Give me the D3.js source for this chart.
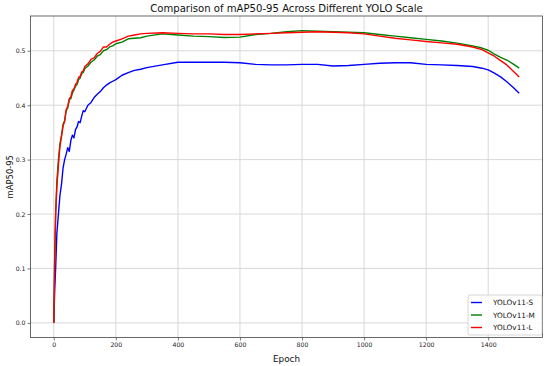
<!DOCTYPE html>
<html>
<head>
<meta charset="utf-8">
<script src="https://cdn.jsdelivr.net/npm/d3@7"></script>
<style>
  body { margin: 0; background: #fff; }
  svg { font-family: "DejaVu Sans", sans-serif; }
</style>
</head>
<body>
<svg width="550" height="366"></svg>
<script>
// epochs
var epochs = [0, 3, 6, 10, 15, 20, 25, 30, 35, 40, 45, 50, 55, 60, 65, 70, 75, 80, 85, 90, 95,
  100, 110, 120, 130, 140, 150, 160, 170, 180, 190, 200, 220, 240, 260, 280, 300, 350,
  400, 450, 500, 550, 600, 650, 700, 750, 800, 850, 900, 950, 1000, 1050, 1100, 1150,
  1200, 1250, 1300, 1350, 1380, 1400, 1420, 1440, 1460, 1480, 1500];

var yoloS = [0, 0.06, 0.10, 0.165, 0.20, 0.235, 0.255, 0.285, 0.30, 0.31, 0.322, 0.315, 0.335, 0.345, 0.34, 0.355, 0.36, 0.37, 0.368, 0.38, 0.39,
  0.388, 0.40, 0.405, 0.414, 0.42, 0.425, 0.432, 0.437, 0.441, 0.444, 0.447, 0.455, 0.46, 0.464, 0.466, 0.469, 0.474,
  0.479, 0.479, 0.479, 0.479, 0.478, 0.475, 0.474, 0.474, 0.475, 0.475, 0.472, 0.473, 0.475, 0.477, 0.478, 0.478,
  0.475, 0.474, 0.473, 0.471, 0.468, 0.465, 0.459, 0.452, 0.443, 0.433, 0.422];

var yoloM = [0, 0.12, 0.20, 0.26, 0.30, 0.33, 0.345, 0.365, 0.372, 0.39, 0.395, 0.41, 0.412, 0.422, 0.428, 0.435, 0.438, 0.447, 0.45, 0.458, 0.46,
  0.467, 0.472, 0.479, 0.483, 0.49, 0.493, 0.50, 0.502, 0.507, 0.509, 0.513, 0.516, 0.522, 0.523, 0.524, 0.527, 0.531,
  0.529, 0.527, 0.526, 0.5245, 0.525, 0.53, 0.532, 0.535, 0.537, 0.536, 0.535, 0.534, 0.533, 0.53, 0.527, 0.524,
  0.521, 0.518, 0.514, 0.509, 0.505, 0.501, 0.494, 0.488, 0.483, 0.476, 0.468];

var yoloL = [0, 0.12, 0.20, 0.25, 0.29, 0.325, 0.342, 0.362, 0.37, 0.392, 0.398, 0.412, 0.415, 0.427, 0.43, 0.438, 0.442, 0.451, 0.453, 0.461, 0.463,
  0.471, 0.476, 0.484, 0.487, 0.495, 0.499, 0.507, 0.507, 0.512, 0.516, 0.518, 0.522, 0.527, 0.529, 0.531, 0.532, 0.533,
  0.532, 0.531, 0.531, 0.530, 0.530, 0.531, 0.532, 0.533, 0.534, 0.535, 0.534, 0.533, 0.531, 0.527, 0.523, 0.520,
  0.517, 0.5145, 0.512, 0.507, 0.502, 0.496, 0.490, 0.482, 0.474, 0.463, 0.452];

var seriesNames  = ["YOLOv11-S", "YOLOv11-M", "YOLOv11-L"];
var seriesColors = ["blue", "green", "red"];
var xTicks = [0, 200, 400, 600, 800, 1000, 1200, 1400];
var yTicks = [0.0, 0.1, 0.2, 0.3, 0.4, 0.5];

var svg = d3.select("svg"),
    plotLeft = 30.5, plotRight = 542.5, plotTop = 16, plotBottom = 337.5;

var x = d3.scaleLinear().domain([-75, 1575]).range([plotLeft, plotRight]);
var y = d3.scaleLinear().domain([-0.0269, 0.5639]).range([plotBottom, plotTop]);

// grid
svg.append("g").selectAll("line").data(xTicks).enter().append("line")
   .attr("x1", function(d) { return x(d); }).attr("x2", function(d) { return x(d); })
   .attr("y1", plotTop).attr("y2", plotBottom)
   .attr("stroke", "#d4d4d4").attr("stroke-width", 0.9);
svg.append("g").selectAll("line").data(yTicks).enter().append("line")
   .attr("y1", function(d) { return y(d); }).attr("y2", function(d) { return y(d); })
   .attr("x1", plotLeft).attr("x2", plotRight)
   .attr("stroke", "#d4d4d4").attr("stroke-width", 0.9);

// lines
var line = d3.line()
  .x(function(d, i) { return x(epochs[i]); })
  .y(function(d) { return y(d); });

[yoloS, yoloM, yoloL].forEach(function(s, i) {
  svg.append("path")
     .datum(s)
     .attr("d", line)
     .attr("fill", "none")
     .attr("stroke", seriesColors[i])
     .attr("stroke-width", 1.4)
     .attr("stroke-linejoin", "round");
});

// axes
var xAxis = d3.axisBottom(x).tickValues(xTicks).tickSize(3).tickPadding(2).tickFormat(d3.format("d"));
var yAxis = d3.axisLeft(y).tickValues(yTicks).tickSize(3).tickPadding(2).tickFormat(d3.format(".1f"));

var gx = svg.append("g").attr("transform", "translate(0," + plotBottom + ")").call(xAxis);
var gy = svg.append("g").attr("transform", "translate(" + plotLeft + ",0)").call(yAxis);
[gx, gy].forEach(function(g) {
  g.select(".domain").remove();
  g.selectAll("line").attr("stroke", "#444").attr("stroke-width", 0.7);
  g.selectAll("text").attr("font-size", "6.2px").attr("fill", "#222")
   .attr("font-family", "DejaVu Sans");
});

svg.append("rect")
   .attr("x", plotLeft).attr("y", plotTop)
   .attr("width", plotRight - plotLeft).attr("height", plotBottom - plotTop)
   .attr("fill", "none").attr("stroke", "#444").attr("stroke-width", 0.8);

// labels
svg.append("text")
   .attr("x", (plotLeft + plotRight) / 2).attr("y", 12)
   .attr("text-anchor", "middle").attr("font-size", "10.1px").attr("fill", "#111")
   .text("Comparison of mAP50-95 Across Different YOLO Scale");

svg.append("text")
   .attr("x", (plotLeft + plotRight) / 2).attr("y", 361.5)
   .attr("text-anchor", "middle").attr("font-size", "8.8px").attr("fill", "#111")
   .text("Epoch");

svg.append("text")
   .attr("transform", "translate(12.5," + (plotTop + plotBottom) / 2 + ") rotate(-90)")
   .attr("text-anchor", "middle").attr("font-size", "8.4px").attr("fill", "#111")
   .text("mAP50-95");

// legend
var legend = svg.append("g").attr("transform", "translate(468,295)");
legend.append("rect")
   .attr("width", 74).attr("height", 40).attr("rx", 2)
   .attr("fill", "white").attr("fill-opacity", 0.85)
   .attr("stroke", "#cccccc").attr("stroke-width", 0.8);
seriesNames.forEach(function(name, i) {
  var ly = 7.5 + i * 12.5;
  legend.append("line")
     .attr("x1", 3).attr("x2", 14).attr("y1", ly).attr("y2", ly)
     .attr("stroke", seriesColors[i]).attr("stroke-width", 1.4);
  legend.append("text")
     .attr("x", 25).attr("y", ly + 2.6)
     .attr("font-size", "7.3px").attr("fill", "#111")
     .text(name);
});
</script>
</body>
</html>
